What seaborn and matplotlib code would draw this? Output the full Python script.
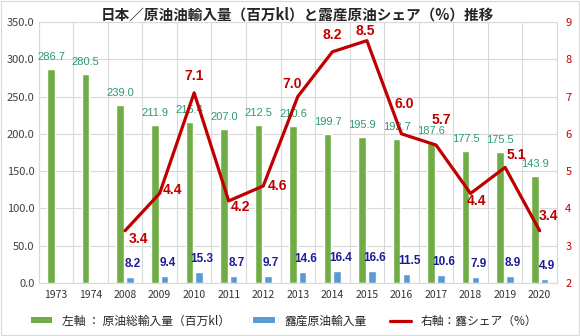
import numpy as np
import pandas as pd
import matplotlib
matplotlib.use("Agg")
import matplotlib.pyplot as plt
from matplotlib.patches import Patch, Rectangle
from matplotlib.lines import Line2D
import seaborn as sns

years = ["1973", "1974", "2008", "2009", "2010", "2011", "2012", "2013",
         "2014", "2015", "2016", "2017", "2018", "2019", "2020"]
total_import = [286.7, 280.5, 239.0, 211.9, 215.4, 207.0, 212.5, 210.6,
                199.7, 195.9, 192.7, 187.6, 177.5, 175.5, 143.9]
russia_import = [np.nan, np.nan, 8.2, 9.4, 15.3, 8.7, 9.7, 14.6,
                 16.4, 16.6, 11.5, 10.6, 7.9, 8.9, 4.9]
russia_share = [np.nan, np.nan, 3.4, 4.4, 7.1, 4.2, 4.6, 7.0,
                8.2, 8.5, 6.0, 5.7, 4.4, 5.1, 3.4]

title = "日本／原油油輸入量（百万kl）と露産原油シェア（%）推移"
lbl_total = "左軸 ： 原油総輸入量（百万kl）"
lbl_russia = "露産原油輸入量"
lbl_share = "右軸：露シェア（%）"

# label offsets in pixels (dx, dy) for the share labels
share_offsets = [(0, 0), (0, 0), (13, -8), (13, 3), (0, 17), (12, -6), (14, 0),
                 (-6, 13), (0, 17), (-2, 10), (3, 30), (5, 25), (6, -8), (11, 12), (9, 15)]

GREEN = "#70AD47"
BLUE = "#5B9BD5"
RED = "#C00000"
GREEN_TXT = "#2E9A6E"
BLUE_TXT = "#1C1C96"

sns.set_theme(style="white")
plt.rcParams["font.family"] = ["Noto Sans CJK JP", "DejaVu Sans"]

fig = plt.figure(figsize=(5.8, 3.36), dpi=100)
ax = fig.add_axes([0.0667, 0.158, 0.8935, 0.7765])

df = pd.DataFrame({
    "year": years * 2,
    "value": total_import + russia_import,
    "series": [lbl_total] * len(years) + [lbl_russia] * len(years),
})
sns.barplot(data=df, x="year", y="value", hue="series", order=years,
            hue_order=[lbl_total, lbl_russia],
            palette={lbl_total: GREEN, lbl_russia: BLUE},
            width=0.56, gap=0.22, legend=False, ax=ax, saturation=1,
            errorbar=None)

ax.set_xlim(-0.5, len(years) - 0.5)
ax.set_ylim(0, 350)
ax.set_yticks(np.arange(0, 351, 50))
ax.set_yticklabels([f"{v:.1f}" for v in np.arange(0, 351, 50)])
ax.set_xlabel("")
ax.set_ylabel("")
ax.tick_params(axis="y", labelsize=8, colors="#404040", length=0, pad=3)
ax.tick_params(axis="x", labelsize=7.5, colors="#333333", length=0, pad=5)
ax.set_xticks(np.arange(-0.5, len(years), 1.0), minor=True)
ax.grid(True, axis="y", color="#D9D9D9", lw=0.8)
ax.grid(True, axis="x", which="minor", color="#D9D9D9", lw=0.8)
ax.grid(False, axis="x", which="major")
ax.set_axisbelow(True)
for s in ax.spines.values():
    s.set_color("#D9D9D9")
    s.set_linewidth(0.8)

# bar labels
pos = np.arange(len(years))
for i, v in enumerate(total_import):
    ax.annotate(f"{v:.1f}", (pos[i] - 0.14, v), xytext=(0, 12),
                textcoords="offset pixels", ha="center", va="center",
                fontsize=8, color=GREEN_TXT, family=["Liberation Sans", "DejaVu Sans"])
for i, v in enumerate(russia_import):
    if np.isnan(v):
        continue
    ax.annotate(f"{v:.1f}", (pos[i] + 0.14, v), xytext=(3, 13),
                textcoords="offset pixels", ha="center", va="center",
                fontsize=8.5, fontweight="bold", color=BLUE_TXT,
                family=["Liberation Sans", "DejaVu Sans"])

ax2 = ax.twinx()
ax2.set_position(ax.get_position())
sns.lineplot(x=pos, y=russia_share, ax=ax2, color=RED, lw=2.3)
ax2.set_ylim(2, 9)
ax2.set_yticks(range(2, 10))
ax2.tick_params(axis="y", labelsize=8, colors=RED, length=0, pad=6)
ax2.set_ylabel("")
ax2.grid(False)
for s in ax2.spines.values():
    s.set_visible(False)
ax.set_xlim(-0.5, len(years) - 0.5)

for i, v in enumerate(russia_share):
    if np.isnan(v):
        continue
    dx, dy = share_offsets[i]
    ax2.annotate(f"{v:.1f}", (pos[i], v), xytext=(dx, dy),
                 textcoords="offset pixels", ha="center", va="center",
                 fontsize=10, fontweight="bold", color=RED,
                 family=["Liberation Sans", "DejaVu Sans"])

fig.text(0.513, 0.958, title, ha="center", va="center", fontsize=10.5,
         fontweight="bold", color="#262626")

handles = [Patch(facecolor=GREEN, edgecolor="none"),
           Patch(facecolor=BLUE, edgecolor="none"),
           Line2D([0], [0], color=RED, lw=2.3)]
fig.legend(handles, [lbl_total, lbl_russia, lbl_share], loc="center",
           bbox_to_anchor=(0.49, 0.045), ncol=3, frameon=False, fontsize=8.5,
           handlelength=1.8, handleheight=0.45, columnspacing=2.0,
           handletextpad=0.8, labelcolor="#262626")

fig.patches.append(Rectangle((0.002, 0.003), 0.996, 0.994, transform=fig.transFigure,
                             fill=False, edgecolor="#D9D9D9", lw=0.8))

fig.savefig("out.png", dpi=100)
